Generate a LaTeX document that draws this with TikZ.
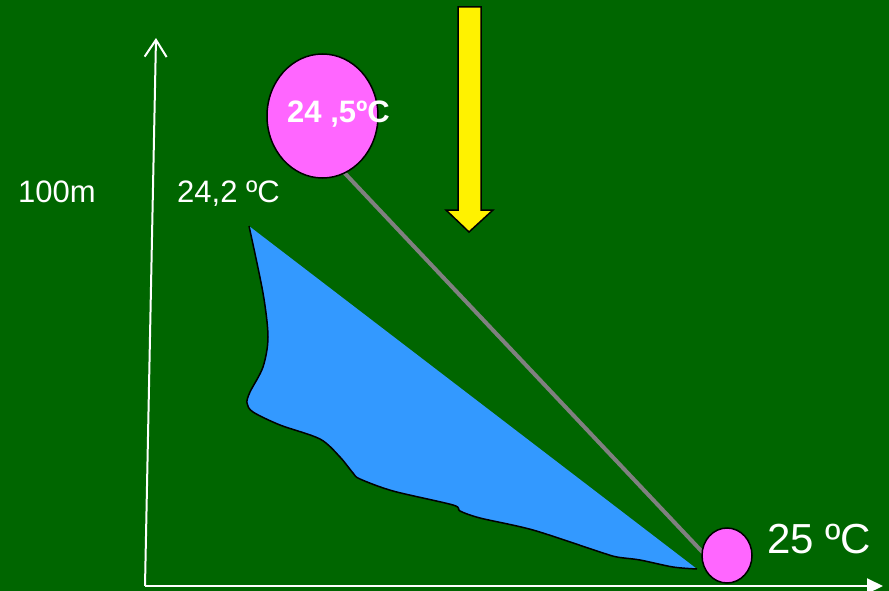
\documentclass[tikz,border=0pt]{standalone}
\usepackage{fontspec}
\setmainfont{Liberation Sans}
\usetikzlibrary{shapes.geometric,arrows.meta}
\definecolor{bggreen}{RGB}{0,102,0}
\definecolor{pinkball}{RGB}{255,102,255}
\definecolor{waterblue}{RGB}{51,153,255}
\definecolor{rodgray}{RGB}{128,128,128}
\tikzset{
  ball/.style={ellipse, draw=black, line width=1.5pt, fill=pinkball, inner sep=0pt},
  lbl/.style={text=white, anchor=base west, inner sep=0pt, font=\fontsize{31}{31}\selectfont},
  axis/.style={draw=white, line width=2pt}
}
\begin{document}
\begin{tikzpicture}[x=1pt,y=-1pt]
\fill[bggreen] (0,0) rectangle (889,591);
\useasboundingbox (0,0) rectangle (889,591);
% axes
\coordinate (o) at (145,586);
\coordinate (ytop) at (156,38);
\coordinate (xend) at (883,586);
\draw[axis, -{Straight Barb[length=17pt,width=22pt,line width=2pt]}] (o) -- (ytop);
\draw[axis, -{Triangle[length=16pt,width=15pt]}] (o) -- (xend);
% water body
\fill[waterblue] plot[smooth, tension=0.5] coordinates {(249,226) (263,293) (268,337) (263,367) (250,392) (247,403) (253,412) (280,425) (320,439) (340,457) (353,473) (360,479) (393,491) (453,505) (460,511) (480,518) (533,530) (600,552) (617,557) (640,560) (673,567) (697,569)} -- cycle;
\draw[black, line width=1.5pt] plot[smooth, tension=0.5] coordinates {(249,226) (263,293) (268,337) (263,367) (250,392) (247,403) (253,412) (280,425) (320,439) (340,457) (353,473) (360,479) (393,491) (453,505) (460,511) (480,518) (533,530) (600,552) (617,557) (640,560) (673,567) (697,569)};
% rod
\coordinate (r1) at (338,166);
\coordinate (r2) at (708,558);
\draw[rodgray, line width=4pt] (r1) -- (r2);
% balls
\node[ball, minimum width=111pt, minimum height=124pt] (big) at (322.5,116) {};
\node[ball, minimum width=50pt, minimum height=55pt] (small) at (727,555.5) {};
% yellow arrow
\draw[black, line width=1.5pt, fill=yellow, line join=miter] (458,7) -- (481,7) -- (481,210) -- (493,210) -- (469,232) -- (446,210) -- (458,210) -- cycle;
% labels
\node[lbl, font=\fontsize{31}{31}\selectfont\bfseries] (tbig) at (287,123) {24 ,5ºC};
\node[lbl] (h) at (18,202) {100m};
\node[lbl] (t242) at (177,202) {24,2 ºC};
\node[lbl, font=\fontsize{42}{42}\selectfont] (t25) at (767,553) {25 ºC};
\end{tikzpicture}
\end{document}
